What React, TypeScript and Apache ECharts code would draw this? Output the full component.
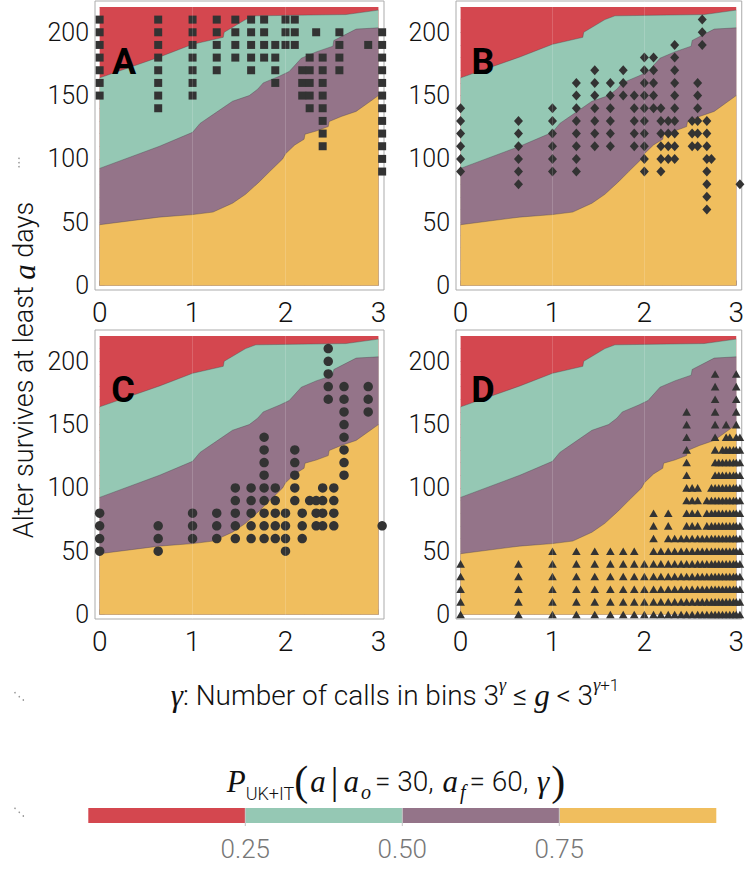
import React, { useEffect, useRef } from 'react';
import * as echarts from 'echarts';

// ---------- data ----------
const gammaTicks = [0, 1, 2, 3];
const gammaMinorTicks = [0.2, 0.4, 0.6, 0.8, 1.2, 1.4, 1.6, 1.8, 2.2, 2.4, 2.6, 2.8];
const ageTicks = [0, 50, 100, 150, 200];
const ageMinorTicks = [10, 20, 30, 40, 60, 70, 80, 90, 110, 120, 130, 140, 160, 170, 180, 190, 210, 220];
const legendTicks = ['0.25', '0.50', '0.75'];
const panelLetters = ['A', 'B', 'C', 'D'];

// region boundaries (same in every panel)
const topEdge: [number, number][] = [[0, 220], [3, 220]];
const q25Boundary: [number, number][] = [
  [0, 164], [0.645, 180.5], [1.0, 190.5], [1.33, 196], [1.34, 200], [1.57, 210], [1.68, 213],
  [2.65, 214], [3.0, 217.5],
];
const q50Boundary: [number, number][] = [
  [0, 92.5], [0.645, 110], [1.0, 121], [1.08, 128], [1.22, 135], [1.43, 145.5], [1.61, 150],
  [1.7, 155], [1.76, 160], [1.94, 165.5], [2.04, 169], [2.17, 179.5], [2.33, 184.5], [2.51, 189],
  [2.52, 193.5], [2.76, 202.5], [3.0, 203.5],
];
const q75Boundary: [number, number][] = [
  [0, 48], [0.64, 54], [1.0, 56], [1.22, 58], [1.43, 65], [1.57, 72], [1.72, 82], [1.83, 90],
  [1.97, 100], [2.0, 104], [2.1, 111], [2.2, 115.5], [2.21, 119.5], [2.33, 122], [2.46, 125.5],
  [2.47, 129.5], [2.6, 133.5], [2.76, 137.5], [3.0, 150],
];

// observed points: [gamma, values of a]
const pointsA: [number, number[]][] = [
  [0, [150, 160, 170, 180, 190, 200, 210]],
  [0.63, [140, 150, 160, 170, 180, 190, 200, 210]],
  [1, [150, 160, 170, 180, 190, 200, 210]],
  [1.26, [170, 180, 190, 200, 210]],
  [1.46, [180, 190, 200, 210]],
  [1.63, [170, 180, 190, 200, 210]],
  [1.77, [180, 190, 200, 210]],
  [1.89, [160, 170, 180, 190]],
  [2, [190, 200, 210]],
  [2.1, [190, 200, 210]],
  [2.18, [150, 160, 170]],
  [2.26, [140, 150, 160, 170, 180]],
  [2.33, [200]],
  [2.4, [110, 120, 130, 140, 150, 160, 170, 180]],
  [2.58, [170, 180, 190, 200]],
  [2.89, [190]],
  [3.04, [90, 100, 110, 120, 130, 140, 150, 160, 170, 180, 190, 200]],
];
const pointsB: [number, number[]][] = [
  [0, [90, 100, 110, 120, 130, 140]],
  [0.63, [80, 90, 100, 110, 120, 130]],
  [1, [90, 100, 110, 120, 130, 140]],
  [1.26, [90, 100, 110, 120, 130, 140, 150, 160]],
  [1.46, [110, 120, 130, 140, 150, 160, 170]],
  [1.63, [110, 120, 130, 140, 150, 160]],
  [1.77, [150, 160, 170]],
  [1.89, [110, 120, 130, 140, 150]],
  [2, [90, 100, 110, 120, 130, 140, 150, 160, 170, 180]],
  [2.1, [140, 150, 160, 170, 180]],
  [2.18, [90, 100, 110, 120, 130, 140]],
  [2.26, [100, 110, 120, 130]],
  [2.33, [100, 110, 120, 130, 140, 150, 160, 170, 180, 190]],
  [2.52, [110, 120, 130]],
  [2.58, [110, 120, 130, 140, 150, 160]],
  [2.63, [190, 200, 210]],
  [2.68, [60, 70, 80, 90, 100, 110, 120, 130]],
  [2.73, [100]],
  [3.04, [80]],
];
const pointsC: [number, number[]][] = [
  [0, [50, 60, 70, 80]],
  [0.63, [50, 60, 70]],
  [1, [60, 70, 80]],
  [1.26, [60, 70, 80]],
  [1.46, [60, 70, 80, 90, 100]],
  [1.63, [60, 70, 80, 90, 100]],
  [1.77, [60, 70, 80, 90, 100, 110, 120, 130, 140]],
  [1.89, [60, 70, 80, 90, 100]],
  [2, [50, 60, 70, 80]],
  [2.1, [90, 100, 110, 120, 130]],
  [2.18, [60, 70, 80]],
  [2.26, [90]],
  [2.33, [70, 80, 90]],
  [2.4, [70, 80, 90, 100]],
  [2.46, [170, 180, 190, 200, 210]],
  [2.52, [70, 80, 90, 100]],
  [2.63, [110, 120, 130, 140, 150, 160, 170, 180]],
  [2.89, [160, 170, 180]],
  [3.04, [70]],
];
const pointsD: [number, number[]][] = [
  [0, [0, 10, 20, 30, 40]],
  [0.63, [0, 10, 20, 30, 40]],
  [1, [0, 10, 20, 30, 40, 50]],
  [1.26, [0, 10, 20, 30, 40, 50]],
  [1.46, [0, 10, 20, 30, 40, 50]],
  [1.63, [0, 10, 20, 30, 40, 50]],
  [1.77, [0, 10, 20, 30, 40, 50]],
  [1.89, [0, 10, 20, 30, 40, 50]],
  [2, [0, 10, 20, 30, 40]],
  [2.1, [0, 10, 20, 30, 40, 50, 60, 70, 80]],
  [2.18, [0, 10, 20, 30, 40, 50]],
  [2.26, [0, 10, 20, 30, 40, 50, 60, 70, 80]],
  [2.33, [0, 10, 20, 30, 40, 50, 60]],
  [2.4, [0, 10, 20, 30, 40, 50, 60]],
  [2.46, [0, 10, 20, 30, 40, 50, 60, 70, 80, 90, 100, 110, 120, 130, 140, 150, 160]],
  [2.52, [0, 10, 20, 30, 40, 50, 60, 70, 80, 90, 100]],
  [2.58, [0, 10, 20, 30, 40, 50, 60, 70, 80, 90, 100]],
  [2.63, [0, 10, 20, 30, 40, 50, 60]],
  [2.68, [0, 10, 20, 30, 40, 50, 60, 70, 80, 90]],
  [2.73, [0, 10, 20, 30, 40, 50, 60, 70, 80, 90, 100]],
  [2.77, [0, 10, 20, 30, 40, 50, 60, 70, 80, 90, 100, 110, 120, 130, 140, 150, 160, 170, 180, 190]],
  [2.81, [0, 10, 20, 30, 40, 50, 60, 70, 80, 90, 100, 110, 120]],
  [2.85, [0, 10, 20, 30, 40, 50, 60, 70, 80, 90, 100, 110, 120, 130]],
  [2.89, [0, 10, 20, 30, 40, 50, 60, 70, 80, 90, 100, 110, 120, 130, 140, 150]],
  [2.93, [0, 10, 20, 30, 40, 50, 60, 70, 80, 90, 100, 110, 120, 130, 140]],
  [2.97, [0, 10, 20, 30, 40, 50, 60, 70, 80, 90, 100, 110, 120, 130]],
  [3, [0, 10, 20, 30, 40, 50, 60, 70, 80, 90, 100, 110, 120, 130, 140, 150, 160, 170, 180, 190]],
  [3.04, [0, 10, 20, 30, 40, 50, 60, 70, 80, 90, 100, 110, 120, 130, 140]],
];

// ---------- styling / layout ----------
const RED = '#D4474F';
const TEAL = '#95C8B4';
const PURPLE = '#947489';
const YELLOW = '#F0BE5E';
const MARK = '#333333';

const panels = [
  { left: 95, top: 1, pts: pointsA, symbol: 'rect', size: 8 as any },
  { left: 456, top: 1, pts: pointsB, symbol: 'diamond', size: [9, 10] as any },
  { left: 95, top: 330, pts: pointsC, symbol: 'circle', size: 9.5 as any },
  { left: 456, top: 330, pts: pointsD, symbol: 'triangle', size: [8.6, 7.6] as any },
];
const PW = 289;
const PH = 289;
const X_MIN = -0.05;
const X_MAX = 3.06;
const Y_MIN = -3.55;
const Y_MAX = 224.7;
const FONT = 'Roboto, "Noto Sans", sans-serif';
const SERIF = '"Liberation Serif", "DejaVu Serif", serif';
const LIGHT = 300;

function buildOption(): any {
  const grid: any[] = [];
  const xAxis: any[] = [];
  const yAxis: any[] = [];
  const series: any[] = [];

  panels.forEach((p, i) => {
    grid.push({
      left: p.left, top: p.top, width: PW, height: PH, show: true,
      borderColor: '#ababab', borderWidth: 1, backgroundColor: 'transparent',
    });
    xAxis.push({
      type: 'value', gridIndex: i, min: X_MIN, max: X_MAX, position: 'bottom',
      axisLine: { show: false }, splitLine: { show: false },
      axisTick: { show: true, inside: true, length: 5, customValues: gammaTicks, lineStyle: { color: '#999' } },
      axisLabel: { customValues: gammaTicks, fontSize: 28, fontWeight: LIGHT, color: '#111', fontFamily: FONT, margin: 8 },
    });
    xAxis.push({
      type: 'value', gridIndex: i, min: X_MIN, max: X_MAX, position: 'bottom',
      axisLine: { show: false }, splitLine: { show: false }, axisLabel: { show: false },
      axisTick: { show: true, inside: true, length: 2.5, customValues: gammaMinorTicks, lineStyle: { color: '#b5b5b5' } },
    });
    yAxis.push({
      type: 'value', gridIndex: i, min: Y_MIN, max: Y_MAX, position: 'left',
      axisLine: { show: false }, splitLine: { show: false },
      axisTick: { show: true, inside: true, length: 5, customValues: ageTicks, lineStyle: { color: '#999' } },
      axisLabel: { customValues: ageTicks, fontSize: 25, fontWeight: LIGHT, color: '#111', fontFamily: FONT, margin: 6 },
    });
    yAxis.push({
      type: 'value', gridIndex: i, min: Y_MIN, max: Y_MAX, position: 'left',
      axisLine: { show: false }, splitLine: { show: false }, axisLabel: { show: false },
      axisTick: { show: true, inside: true, length: 2.5, customValues: ageMinorTicks, lineStyle: { color: '#b5b5b5' } },
    });

    const area = (data: [number, number][], color: string, line: boolean, extra: any = {}) => ({
      type: 'line', xAxisIndex: 2 * i, yAxisIndex: 2 * i, data, symbol: 'none', silent: true,
      lineStyle: line ? { color: 'rgba(70,60,70,0.5)', width: 0.7 } : { width: 0, opacity: 0 },
      areaStyle: { color, opacity: 1 }, z: 1, ...extra,
    });
    series.push(area(topEdge, RED, false));
    series.push(area(q25Boundary, TEAL, true));
    series.push(area(q50Boundary, PURPLE, true));
    series.push(area(q75Boundary, YELLOW, true, {
      markLine: {
        silent: true, symbol: ['none', 'none'], label: { show: false },
        lineStyle: { color: 'rgba(255,255,255,0.16)', width: 1, type: 'solid' },
        data: [{ xAxis: 1 }, { xAxis: 2 }],
      },
    }));

    const data: [number, number][] = [];
    p.pts.forEach(([g, vals]) => vals.forEach((v) => data.push([g, v])));
    series.push({
      type: 'scatter', xAxisIndex: 2 * i, yAxisIndex: 2 * i, data, symbol: p.symbol,
      symbolSize: p.size, itemStyle: { color: MARK, opacity: 1 }, clip: true, silent: true, z: 3,
    });
  });

  const graphic: any[] = [];
  // panel letters
  const letterPos = [[124, 62], [483, 62], [123, 390], [483, 390]];
  panelLetters.forEach((t, i) => {
    graphic.push({
      type: 'text', x: letterPos[i][0], y: letterPos[i][1], z: 10,
      style: { text: t, fontSize: 36, fontWeight: 'bold', fontFamily: FONT, fill: '#000', align: 'center', verticalAlign: 'middle' },
    });
  });
  // y axis title
  graphic.push({
    type: 'text', x: 24, y: 370, rotation: Math.PI / 2,
    style: {
      text: '{n|Alter survives at least }{i|a}{n| days}', align: 'center', verticalAlign: 'middle',
      rich: {
        n: { fontSize: 27, fontWeight: LIGHT, fontFamily: FONT, fill: '#111', lineHeight: 32 },
        i: { fontSize: 31, fontFamily: SERIF, fontStyle: 'italic', fill: '#111', lineHeight: 32 },
      },
    },
  });
  // x axis title
  graphic.push({
    type: 'text', x: 395, y: 695,
    style: {
      text: '{gi|γ}{n|: Number of calls in bins 3}{si|γ}{n| ≤ }{gi|g}{n| < 3}{si|γ}{s|+1}',
      align: 'center', verticalAlign: 'middle',
      rich: {
        n: { fontSize: 28, fontWeight: LIGHT, fontFamily: FONT, fill: '#111', lineHeight: 38 },
        gi: { fontSize: 31, fontFamily: SERIF, fontStyle: 'italic', fill: '#111', lineHeight: 38 },
        si: { fontSize: 18, fontFamily: SERIF, fontStyle: 'italic', fill: '#111', lineHeight: 20, verticalAlign: 'top' },
        s: { fontSize: 17, fontWeight: LIGHT, fontFamily: FONT, fill: '#111', lineHeight: 20, verticalAlign: 'top' },
      },
    },
  });
  // legend title
  graphic.push({
    type: 'text', x: 396, y: 781,
    style: {
      text: '{P|P}{sub|UK+IT}{par|(}{i|a}{bar||}{i|a}{subi|o}{n|= 30, }{i|a}{subi|f}{n|= 60, }{i|γ}{par|)}',
      align: 'center', verticalAlign: 'middle',
      rich: {
        P: { fontSize: 31, fontFamily: SERIF, fontStyle: 'italic', fill: '#111', lineHeight: 42 },
        sub: { fontSize: 18, fontWeight: LIGHT, fontFamily: FONT, fill: '#111', lineHeight: 28, verticalAlign: 'bottom' },
        par: { fontSize: 42, fontFamily: SERIF, fill: '#111', lineHeight: 42 },
        i: { fontSize: 31, fontFamily: SERIF, fontStyle: 'italic', fill: '#111', lineHeight: 42, padding: [0, 2, 0, 2] },
        bar: { fontSize: 38, fontFamily: SERIF, fill: '#111', lineHeight: 42, padding: [0, 3, 0, 3] },
        subi: { fontSize: 20, fontFamily: SERIF, fontStyle: 'italic', fill: '#111', lineHeight: 28, verticalAlign: 'bottom', padding: [0, 4, 0, 0] },
        n: { fontSize: 28, fontWeight: LIGHT, fontFamily: FONT, fill: '#111', lineHeight: 42 },
      },
    },
  });
  // legend bar
  const barX0 = 88.3;
  const segW = 157;
  [RED, TEAL, PURPLE, YELLOW].forEach((c, k) => {
    graphic.push({ type: 'rect', shape: { x: barX0 + k * segW, y: 808, width: segW, height: 15 }, style: { fill: c } });
  });
  legendTicks.forEach((t, k) => {
    const x = barX0 + (k + 1) * segW;
    graphic.push({ type: 'line', shape: { x1: x, y1: 808, x2: x, y2: 826 }, style: { stroke: '#c4c4c4', lineWidth: 1 } });
    graphic.push({
      type: 'text', x, y: 849,
      style: { text: t, fontSize: 26, fontWeight: LIGHT, fontFamily: FONT, fill: '#777', align: 'center', verticalAlign: 'middle' },
    });
  });
  // stray dots at the left margin
  const dots = [[19, 158.3], [19, 162.7], [19, 166.7], [15, 692.7], [19.3, 696.7], [23.3, 700], [15, 808.3], [19.3, 812.3], [23.3, 816]];
  dots.forEach(([x, y]) => graphic.push({ type: 'circle', shape: { cx: x, cy: y, r: 0.8 }, style: { fill: '#999' } }));

  return {
    animation: false,
    backgroundColor: '#ffffff',
    grid, xAxis, yAxis, series, graphic,
  };
}

export default function App() {
  const ref = useRef<HTMLDivElement>(null);
  useEffect(() => {
    if (!ref.current) return;
    const chart = echarts.init(ref.current, null, { renderer: 'svg' });
    chart.setOption(buildOption());
    return () => chart.dispose();
  }, []);
  return (
    <div
      ref={ref}
      style={{ position: 'fixed', left: 0, top: 0, width: 747, height: 873, background: '#fff' }}
    />
  );
}
